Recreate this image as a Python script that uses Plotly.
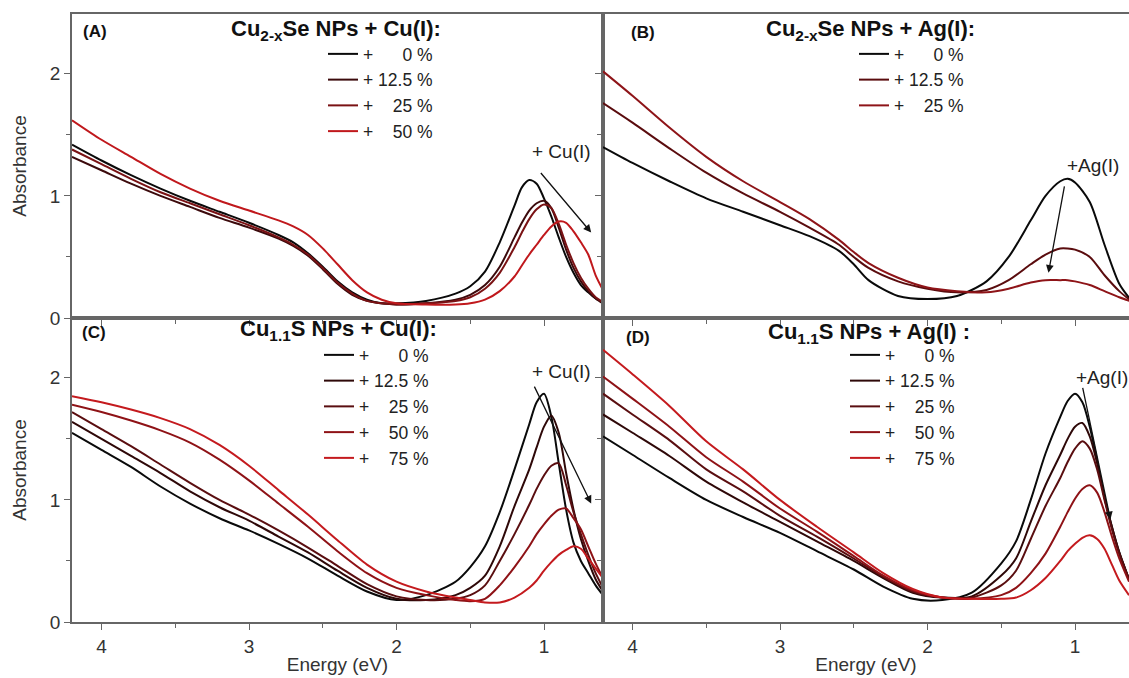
import plotly.graph_objects as go

# ---------------- data ----------------
# Panel A: Cu2-xSe NPs + Cu(I)
EA = [4.2, 4.0, 3.8, 3.6, 3.4, 3.2, 3.0, 2.8, 2.7, 2.6, 2.5, 2.4, 2.3, 2.2, 2.1, 2.0, 1.8, 1.6, 1.5,
      1.4, 1.3, 1.2, 1.15, 1.1, 1.05, 1.0, 0.95, 0.9, 0.85, 0.8, 0.75, 0.7, 0.65, 0.6]
A_0 = [1.42, 1.29, 1.17, 1.06, 0.96, 0.87, 0.78, 0.68, 0.62, 0.53, 0.42, 0.30, 0.21, 0.15, 0.12, 0.12, 0.14, 0.20, 0.26,
       0.38, 0.62, 0.92, 1.07, 1.13, 1.10, 0.98, 0.83, 0.66, 0.50, 0.37, 0.27, 0.21, 0.16, 0.13]
A_12 = [1.32, 1.21, 1.10, 1.00, 0.91, 0.82, 0.74, 0.65, 0.59, 0.51, 0.40, 0.28, 0.19, 0.14, 0.12, 0.11, 0.12, 0.15, 0.19,
        0.27, 0.42, 0.66, 0.78, 0.88, 0.94, 0.96, 0.90, 0.74, 0.56, 0.41, 0.30, 0.22, 0.16, 0.12]
A_25 = [1.38, 1.26, 1.14, 1.03, 0.94, 0.85, 0.76, 0.66, 0.60, 0.52, 0.41, 0.29, 0.20, 0.14, 0.12, 0.11, 0.12, 0.14, 0.17,
        0.24, 0.37, 0.58, 0.70, 0.81, 0.89, 0.93, 0.90, 0.77, 0.60, 0.45, 0.33, 0.24, 0.17, 0.13]
A_50 = [1.62, 1.46, 1.32, 1.18, 1.06, 0.96, 0.88, 0.80, 0.75, 0.68, 0.57, 0.44, 0.31, 0.21, 0.15, 0.12, 0.11, 0.11, 0.12,
        0.15, 0.22, 0.34, 0.43, 0.52, 0.60, 0.68, 0.75, 0.79, 0.78, 0.71, 0.62, 0.52, 0.35, 0.23]

# Panel B: Cu2-xSe NPs + Ag(I)
EB = [4.2, 4.0, 3.75, 3.5, 3.25, 3.0, 2.8, 2.6, 2.5, 2.4, 2.2, 2.0, 1.8, 1.6, 1.45, 1.3, 1.2, 1.1, 1.05, 1.0,
      0.9, 0.8, 0.7, 0.63]
B_0 = [1.40, 1.27, 1.12, 0.98, 0.87, 0.76, 0.67, 0.55, 0.44, 0.31, 0.18, 0.155, 0.18, 0.30, 0.50, 0.80, 1.00, 1.12, 1.14, 1.11,
       0.95, 0.60, 0.28, 0.16]
B_12 = [1.76, 1.60, 1.39, 1.19, 1.02, 0.87, 0.74, 0.60, 0.50, 0.41, 0.30, 0.24, 0.21, 0.23, 0.31, 0.44, 0.52, 0.57, 0.57, 0.56,
        0.50, 0.35, 0.22, 0.15]
B_25 = [2.02, 1.82, 1.56, 1.32, 1.12, 0.95, 0.81, 0.64, 0.54, 0.45, 0.33, 0.25, 0.22, 0.21, 0.24, 0.29, 0.31, 0.31, 0.31, 0.30,
        0.27, 0.22, 0.17, 0.14]

# Panel C: Cu1.1S NPs + Cu(I)
EC = [4.2, 4.0, 3.8, 3.6, 3.4, 3.2, 3.0, 2.8, 2.6, 2.4, 2.2, 2.0, 1.8, 1.6, 1.5, 1.4, 1.3, 1.2, 1.1, 1.05,
      1.0, 0.95, 0.9, 0.85, 0.8, 0.75, 0.7, 0.65, 0.6]
C_0 = [1.55, 1.41, 1.27, 1.11, 0.97, 0.85, 0.75, 0.64, 0.52, 0.38, 0.25, 0.18, 0.22, 0.33, 0.45, 0.62, 0.90, 1.25, 1.62, 1.80,
       1.87, 1.68, 1.30, 0.92, 0.65, 0.50, 0.40, 0.30, 0.22]
C_12 = [1.64, 1.50, 1.36, 1.22, 1.07, 0.94, 0.83, 0.70, 0.57, 0.42, 0.28, 0.19, 0.18, 0.22, 0.28, 0.38, 0.62, 0.95, 1.25, 1.43,
        1.60, 1.69, 1.55, 1.22, 0.92, 0.68, 0.50, 0.35, 0.25]
C_25 = [1.72, 1.58, 1.44, 1.29, 1.14, 1.00, 0.88, 0.75, 0.61, 0.46, 0.31, 0.21, 0.18, 0.19, 0.22, 0.30, 0.50, 0.72, 0.96, 1.09,
        1.20, 1.28, 1.30, 1.12, 0.90, 0.72, 0.55, 0.40, 0.28]
C_50 = [1.78, 1.72, 1.65, 1.57, 1.47, 1.33, 1.16, 0.97, 0.78, 0.58, 0.40, 0.28, 0.22, 0.18, 0.17, 0.19, 0.30, 0.45, 0.62, 0.72,
        0.80, 0.87, 0.92, 0.93, 0.85, 0.76, 0.62, 0.48, 0.36]
C_75 = [1.85, 1.80, 1.74, 1.67, 1.58, 1.45, 1.28, 1.08, 0.88, 0.67, 0.47, 0.33, 0.25, 0.20, 0.18, 0.16, 0.16, 0.20, 0.28, 0.34,
        0.42, 0.49, 0.55, 0.59, 0.62, 0.60, 0.52, 0.44, 0.36]

# Panel D: Cu1.1S NPs + Ag(I)
ED = [4.2, 4.0, 3.75, 3.5, 3.25, 3.0, 2.75, 2.5, 2.3, 2.1, 1.9, 1.7, 1.5, 1.4, 1.3, 1.2, 1.1, 1.05, 1.0, 0.95,
      0.9, 0.85, 0.8, 0.75, 0.7, 0.634]
D_0 = [1.52, 1.37, 1.18, 1.00, 0.86, 0.73, 0.58, 0.43, 0.29, 0.19, 0.18, 0.24, 0.48, 0.66, 1.00, 1.38, 1.68, 1.81, 1.87, 1.80,
       1.60, 1.32, 1.02, 0.78, 0.57, 0.35]
D_12 = [1.70, 1.55, 1.36, 1.15, 0.98, 0.82, 0.66, 0.50, 0.36, 0.24, 0.20, 0.21, 0.38, 0.52, 0.82, 1.12, 1.37, 1.50, 1.60, 1.63,
        1.52, 1.30, 1.02, 0.78, 0.57, 0.35]
D_25 = [1.87, 1.70, 1.49, 1.25, 1.07, 0.87, 0.70, 0.52, 0.37, 0.25, 0.20, 0.20, 0.30, 0.42, 0.68, 0.95, 1.18, 1.31, 1.42, 1.48,
        1.42, 1.25, 1.00, 0.76, 0.56, 0.35]
D_50 = [2.01, 1.83, 1.60, 1.35, 1.15, 0.93, 0.74, 0.54, 0.38, 0.26, 0.20, 0.19, 0.22, 0.28, 0.40, 0.56, 0.78, 0.90, 1.01, 1.09,
        1.12, 1.06, 0.90, 0.70, 0.52, 0.33]
D_75 = [2.23, 2.03, 1.77, 1.48, 1.25, 1.00, 0.78, 0.57, 0.40, 0.27, 0.20, 0.19, 0.19, 0.20, 0.26, 0.36, 0.50, 0.58, 0.64, 0.69,
        0.71, 0.68, 0.60, 0.47, 0.34, 0.22]

NB = "\u00a0"
LABELS_4 = ["+" + NB * 6 + "0 %", "+ 12.5 %", "+" + NB * 4 + "25 %", "+" + NB * 4 + "50 %"]
LABELS_5 = LABELS_4 + ["+" + NB * 4 + "75 %"]

COL_A = ["#0a0a0a", "#3c0a0c", "#7a1214", "#c0181c"]
COL_B = ["#0a0a0a", "#5a0c0e", "#8e1418"]
COL_CD = ["#0a0a0a", "#2e0808", "#5a0e10", "#8e1216", "#c41a1e"]

FONT = "Arial, Liberation Sans, sans-serif"
W, H = 1129, 678

fig = go.Figure()

panels = [
    ("x", "y", "legend", EA, [A_0, A_12, A_25, A_50], LABELS_4, COL_A),
    ("x2", "y2", "legend2", EB, [B_0, B_12, B_25], LABELS_4[:3], COL_B),
    ("x3", "y3", "legend3", EC, [C_0, C_12, C_25, C_50, C_75], LABELS_5, COL_CD),
    ("x4", "y4", "legend4", ED, [D_0, D_12, D_25, D_50, D_75], LABELS_5, COL_CD),
]
for xa, ya, lg, E, series, labels, cols in panels:
    for s, lab, c in zip(series, labels, cols):
        fig.add_trace(go.Scatter(x=E, y=s, mode="lines", name=lab, xaxis=xa, yaxis=ya, legend=lg,
                                 line=dict(color=c, width=2, shape="spline", smoothing=0.8)))


def px_x(p):
    return p / W


def px_y(p):
    return 1 - p / H


XL = [px_x(72), px_x(603)]
XR = [px_x(603), 1.0]
YT = [px_y(318), px_y(14)]
YB = [px_y(622), px_y(318)]

axcol = "#666666"
common_x = dict(showgrid=False, zeroline=False, showline=True, linecolor=axcol, linewidth=1.5, mirror=True,
                automargin=False,
                ticks="outside", ticklen=6, tickwidth=1.3, tickcolor=axcol, dtick=1, tick0=0,
                minor=dict(dtick=0.5, ticks="outside", ticklen=4, tickwidth=1.2, tickcolor=axcol),
                tickfont=dict(family=FONT, size=19, color="#333333"))
common_y = dict(showgrid=False, zeroline=False, showline=True, linecolor=axcol, linewidth=1.5,
                automargin=False,
                ticks="outside", ticklen=6, tickwidth=1.3, tickcolor=axcol, dtick=1, tick0=0, range=[0, 2.49],
                minor=dict(dtick=0.5, ticks="outside", ticklen=4, tickwidth=1.2, tickcolor=axcol),
                tickfont=dict(family=FONT, size=19, color="#333333"))

xtitle = dict(text="Energy (eV)", font=dict(family=FONT, size=19, color="#333333"), standoff=2)
ytitle = dict(text="Absorbance", font=dict(family=FONT, size=19, color="#333333"), standoff=18)

fig.update_layout(
    width=W, height=H, margin=dict(l=0, r=0, t=0, b=0),
    paper_bgcolor="white", plot_bgcolor="white",
    font=dict(family=FONT, color="#222222"),
    xaxis=dict(common_x, domain=XL, range=[4.2, 0.6], anchor="y", showticklabels=False),
    yaxis=dict(common_y, domain=YT, anchor="x", mirror=True, title=ytitle),
    xaxis2=dict(common_x, domain=XR, range=[4.2, 0.634], anchor="y2", showticklabels=False),
    yaxis2=dict(common_y, domain=YT, anchor="x2", showticklabels=False),
    xaxis3=dict(common_x, domain=XL, range=[4.2, 0.6], anchor="y3", title=xtitle),
    yaxis3=dict(common_y, domain=YB, anchor="x3", mirror=True, title=ytitle),
    xaxis4=dict(common_x, domain=XR, range=[4.2, 0.634], anchor="y4", title=xtitle),
    yaxis4=dict(common_y, domain=YB, anchor="x4", showticklabels=False),
)

leg_common = dict(bgcolor="rgba(0,0,0,0)", font=dict(family=FONT, size=17.5, color="#222222"),
                  xanchor="left", yanchor="top", itemwidth=30, itemclick=False)
fig.update_layout(
    legend=dict(leg_common, x=px_x(323), y=px_y(36)),
    legend2=dict(leg_common, x=px_x(854), y=px_y(36)),
    legend3=dict(leg_common, x=px_x(319), y=px_y(337)),
    legend4=dict(leg_common, x=px_x(845), y=px_y(337)),
)

ann = []
# panel titles
titles = [
    ("<b>Cu<sub>2-x</sub>Se NPs + Cu(I):</b>", 336, 30),
    ("<b>Cu<sub>2-x</sub>Se NPs + Ag(I):</b>", 870, 30),
    ("<b>Cu<sub>1.1</sub>S NPs + Cu(I):</b>", 338, 330),
    ("<b>Cu<sub>1.1</sub>S NPs + Ag(I) :</b>", 869, 333),
]
for t, xp, yp in titles:
    ann.append(dict(text=t, x=px_x(xp), y=px_y(yp), xref="paper", yref="paper", showarrow=False,
                    xanchor="center", yanchor="middle", font=dict(family=FONT, size=22, color="#111111")))
# panel letters
for t, xp, yp in [("(A)", 95, 31), ("(B)", 643, 33), ("(C)", 94, 332), ("(D)", 638, 337)]:
    ann.append(dict(text="<b>%s</b>" % t, x=px_x(xp), y=px_y(yp), xref="paper", yref="paper", showarrow=False,
                    xanchor="center", yanchor="middle", font=dict(family=FONT, size=17, color="#111111")))
# arrows (tail -> head, data coords)
arrows = [("x", "y", 1.03, 1.20, 0.68, 0.70), ("x2", "y2", 1.07, 1.09, 1.18, 0.37),
          ("x3", "y3", 1.07, 1.94, 0.68, 0.97), ("x4", "y4", 0.95, 1.93, 0.76, 0.84)]
for xa, ya, tx, ty, hx, hy in arrows:
    ann.append(dict(x=hx, y=hy, ax=tx, ay=ty, xref=xa, yref=ya, axref=xa, ayref=ya, text="", showarrow=True,
                    arrowhead=2, arrowsize=1.2, arrowwidth=1.3, arrowcolor="#111111"))
# arrow labels
for t, xa, ya, ex, ay in [("+ Cu(I)", "x", "y", 0.88, 1.36), ("+Ag(I)", "x2", "y2", 0.88, 1.25),
                          ("+ Cu(I)", "x3", "y3", 0.88, 2.05), ("+Ag(I)", "x4", "y4", 0.82, 2.0)]:
    ann.append(dict(text=t, x=ex, y=ay, xref=xa, yref=ya, showarrow=False, xanchor="center", yanchor="middle",
                    font=dict(family=FONT, size=19, color="#222222")))
fig.update_layout(annotations=ann)

fig.write_html("out.html")
